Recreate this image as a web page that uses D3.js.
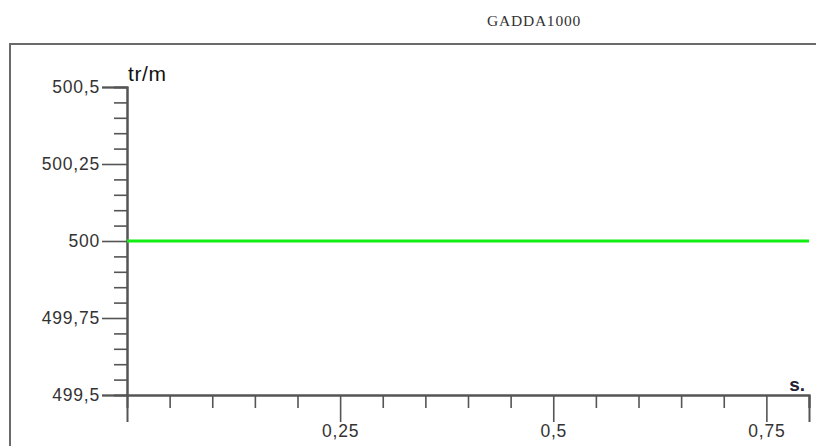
<!DOCTYPE html>
<html>
<head>
<meta charset="utf-8">
<script src="https://cdn.jsdelivr.net/npm/d3@7"></script>
<style>
  html, body { margin: 0; padding: 0; background: #fff; }
  svg { display: block; }
</style>
</head>
<body>
<svg id="chart" width="816" height="446"></svg>
<script>
// Rotation speed over time
const title = "GADDA1000";
const yUnit = "tr/m";
const xUnit = "s.";
const timeS = [0, 0.1, 0.2, 0.3, 0.4, 0.5, 0.6, 0.7, 0.8];
const speed = [500, 500, 500, 500, 500, 500, 500, 500, 500];
const yMajorTicks = [499.5, 499.75, 500, 500.25, 500.5];
const yMinorTicks = [499.55, 499.6, 499.65, 499.7, 499.8, 499.85, 499.9, 499.95,
                     500.05, 500.1, 500.15, 500.2, 500.3, 500.35, 500.4, 500.45];
const xMajorTicks = [0.25, 0.5, 0.75];
const xMinorTicks = [0.05, 0.1, 0.15, 0.2, 0.3, 0.35, 0.4, 0.45, 0.55, 0.6, 0.65, 0.7, 0.8];

const svg = d3.select("#chart");
const fmt = v => String(+v.toFixed(2)).replace(".", ",");

const x = d3.scaleLinear().domain([0, 0.8]).range([127, 809]);
const y = d3.scaleLinear().domain([499.5, 500.5]).range([395, 87]);

// outer frame
svg.append("rect")
  .attr("x", 10).attr("y", 44)
  .attr("width", 830).attr("height", 450)
  .attr("fill", "none").attr("stroke", "#6a6a6a").attr("stroke-width", 2);

// title
svg.append("text")
  .attr("x", 534).attr("y", 26)
  .attr("text-anchor", "middle")
  .attr("font-family", "'Liberation Serif', 'Times New Roman', serif")
  .attr("font-size", 15.5).attr("letter-spacing", 0.8)
  .attr("fill", "#333")
  .text(title);

const axisColor = "#555";
const textColor = "#333";
const sans = "'Liberation Sans', Arial, sans-serif";

function styleAxis(g) {
  g.selectAll(".domain").attr("stroke", axisColor).attr("stroke-width", 2);
  g.selectAll(".tick line").attr("stroke", axisColor).attr("stroke-width", 1.6);
  g.selectAll(".tick text")
    .attr("fill", textColor)
    .attr("font-family", sans)
    .attr("font-size", 17.5)
    .attr("letter-spacing", 0.8);
}

// y axis: minor then major ticks
svg.append("g")
  .attr("transform", `translate(${x(0)},0)`)
  .call(d3.axisLeft(y).tickValues(yMinorTicks).tickSize(13).tickFormat(""))
  .call(styleAxis);
svg.append("g")
  .attr("transform", `translate(${x(0)},0)`)
  .call(d3.axisLeft(y).tickValues(yMajorTicks).tickSize(25).tickPadding(2).tickFormat(fmt))
  .call(styleAxis);

// x axis: minor then major ticks
svg.append("g")
  .attr("transform", `translate(0,${y(499.5)})`)
  .call(d3.axisBottom(x).tickValues(xMinorTicks).tickSize(13).tickFormat(""))
  .call(styleAxis);
svg.append("g")
  .attr("transform", `translate(0,${y(499.5)})`)
  .call(d3.axisBottom(x).tickValues(xMajorTicks).tickSize(27).tickPadding(3).tickFormat(fmt))
  .call(styleAxis);

// unit labels
svg.append("text")
  .attr("x", x(0) + 1).attr("y", y(500.5) - 6)
  .attr("font-family", sans).attr("font-size", 21).attr("letter-spacing", 0.6)
  .attr("fill", "#111")
  .text(yUnit);
svg.append("text")
  .attr("x", x(0.8) - 4).attr("y", y(499.5) - 4)
  .attr("text-anchor", "end")
  .attr("font-family", sans).attr("font-size", 19).attr("font-weight", "bold")
  .attr("fill", "#223")
  .text(xUnit);

// speed trace
const line = d3.line().x((d, i) => x(timeS[i])).y(d => y(d));
svg.append("path")
  .datum(speed)
  .attr("d", line)
  .attr("fill", "none")
  .attr("stroke", "#11ee11")
  .attr("stroke-width", 3);
</script>
</body>
</html>
